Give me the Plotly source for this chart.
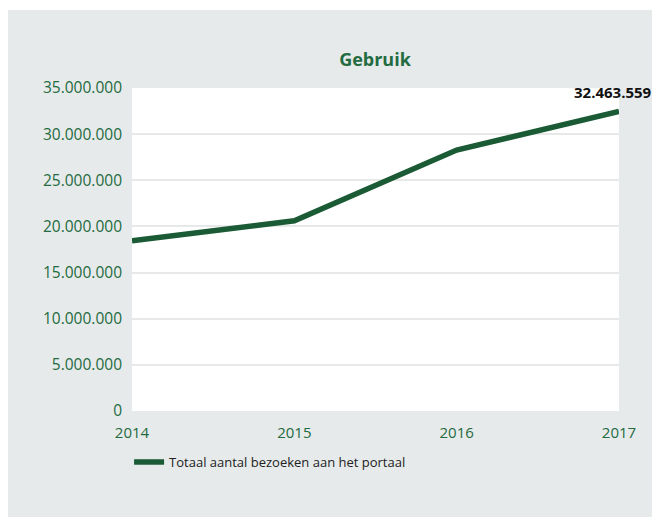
import plotly.graph_objects as go

years = ["2014", "2015", "2016", "2017"]
bezoeken = [18450000, 20620000, 28280000, 32463559]
y_ticks = [0, 5000000, 10000000, 15000000, 20000000, 25000000, 30000000, 35000000]
y_tick_labels = ["0", "5.000.000", "10.000.000", "15.000.000", "20.000.000",
                 "25.000.000", "30.000.000", "35.000.000"]
series_name = "Totaal aantal bezoeken aan het portaal"
title_text = "Gebruik"
end_label = "32.463.559"

GREEN = "#1a5a34"
TEXT_GREEN = "#236b40"
GRAY = "#e7eaeb"
FONT = "Open Sans"

W, H = 652, 509
L, R, T, B = 124, 41, 80, 106
PH = H - T - B

fig = go.Figure()
fig.add_trace(go.Scatter(
    x=[0, 1, 2, 3], y=bezoeken, mode="lines", name=series_name,
    line=dict(color=GREEN, width=5.5), hoverinfo="skip"))

# thin white strip at the very top of the panel
fig.add_shape(type="rect", xref="paper", yref="paper",
              x0=-L / (W - L - R), x1=(W - L) / (W - L - R),
              y0=(PH + T - 2) / PH, y1=(PH + T) / PH,
              fillcolor="white", line=dict(width=0), layer="below")

fig.add_annotation(x=3, y=bezoeken[3], xref="x", yref="y", text="<b>" + end_label + "</b>",
                   showarrow=False, xanchor="center", yanchor="bottom",
                   xshift=-6, yshift=7, font=dict(family=FONT, size=15, color="#111111"))

fig.update_layout(
    width=W, height=H,
    margin=dict(l=L, r=R, t=T, b=B),
    paper_bgcolor=GRAY, plot_bgcolor="white",
    title=dict(text="<b>" + title_text + "</b>", x=367 / W, xanchor="center",
               y=1 - 52 / H, yanchor="middle",
               font=dict(family=FONT, size=18, color=TEXT_GREEN)),
    font=dict(family=FONT),
    showlegend=True,
    legend=dict(orientation="h", x=-0.006, xanchor="left", y=-0.158, yanchor="middle",
                font=dict(family=FONT, size=13, color="#222222"), bgcolor="rgba(0,0,0,0)"),
    xaxis=dict(range=[0, 3], tickvals=[0, 1, 2, 3], ticktext=years,
               showgrid=False, zeroline=False, showline=False,
               ticks="", ticklen=0, ticklabelstandoff=11,
               tickfont=dict(family=FONT, size=15, color=TEXT_GREEN)),
    yaxis=dict(range=[0, 35000000], tickvals=y_ticks, ticktext=y_tick_labels,
               showgrid=True, gridcolor="#e6e9e8", gridwidth=2,
               zeroline=False, showline=False, ticks="", ticklabelstandoff=9,
               tickfont=dict(family=FONT, size=15.5, color=TEXT_GREEN)),
)

fig.write_html("out.html")
